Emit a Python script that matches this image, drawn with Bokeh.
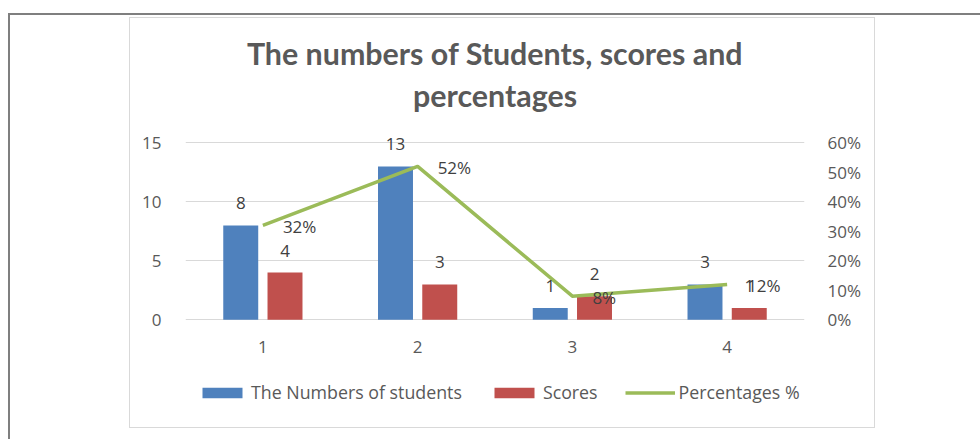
from bokeh.plotting import figure
from bokeh.models import (ColumnDataSource, Range1d, FactorRange, LinearAxis, FixedTicker,
                          NumeralTickFormatter, Legend, LegendItem, Title, LabelSet)
from bokeh.transform import dodge
from bokeh.core.properties import value
from bokeh.embed import file_html
from bokeh.resources import INLINE

# ---- data ----
categories = ["1", "2", "3", "4"]
students = [8, 13, 1, 3]
scores = [4, 3, 2, 1]
percentages = [0.32, 0.52, 0.08, 0.12]
series_names = ["The Numbers of students", "Scores", "Percentages %"]
title_lines = ["The numbers of Students, scores and", "percentages"]
left_ticks = [0, 5, 10, 15]
right_ticks = [0.0, 0.1, 0.2, 0.3, 0.4, 0.5, 0.6]
LEFT_MAX = 15
RIGHT_MAX = 0.6

src = ColumnDataSource(dict(
    cat=categories,
    students=students,
    scores=scores,
    pct=percentages,
    students_lbl=[str(v) for v in students],
    scores_lbl=[str(v) for v in scores],
    pct_lbl=[f"{round(v * 100)}%" for v in percentages],
))

# ---- layout geometry (pixels inside the 744x409 chart canvas) ----
FRAME_TOP = 105          # top of the drawing frame
FRAME_H = 280            # frame reaches down far enough to hold the legend
Y_TOP_PX = 124.3         # where the axis maximum sits
Y_ZERO_PX = 301.3        # where zero sits
ppu = (Y_ZERO_PX - Y_TOP_PX) / LEFT_MAX
y_end = LEFT_MAX + (Y_TOP_PX - FRAME_TOP) / ppu
y_start = -((FRAME_TOP + FRAME_H) - Y_ZERO_PX) / ppu
k = RIGHT_MAX / LEFT_MAX

FONT = "Open Sans"
TFONT = "Lato"
AXIS_COLOR = "#595959"
LABEL_COLOR = "#404040"
GRID = "#d9d9d9"
BLUE, RED, GREEN = "#4f81bd", "#c0504d", "#9bbb59"

p = figure(
    x_range=FactorRange(factors=categories), y_range=Range1d(y_start, y_end),
    frame_width=619, frame_height=FRAME_H, output_backend="svg", toolbar_location=None,
    title=None,
    min_border_left=55, min_border_right=70, min_border_top=FRAME_TOP, min_border_bottom=24,
    styles={
        "position": "relative", "left": "130px", "top": "18px",
        "box-shadow": "0 0 0 1px #d9d9d9, 80px 197px 0 200px #ffffff, 78px 195px 0 200px #7f7f7f",
    },
)
p.outline_line_color = None
p.extra_y_ranges = {"pct": Range1d(y_start * k, y_end * k)}

# axes
p.xaxis.fixed_location = -21 / ppu
p.xaxis.axis_line_color = None
p.xaxis.major_tick_line_color = None
p.xaxis.minor_tick_line_color = None
p.xaxis.major_tick_out = 0
p.xaxis.major_label_standoff = 0
p.xaxis.major_label_text_font = FONT
p.xaxis.major_label_text_font_size = "17px"
p.xaxis.major_label_text_color = AXIS_COLOR

p.yaxis.ticker = FixedTicker(ticks=left_ticks)
p.yaxis.axis_line_color = None
p.yaxis.major_tick_line_color = None
p.yaxis.minor_tick_line_color = None
p.yaxis.major_label_standoff = 18
p.yaxis.major_label_text_font = FONT
p.yaxis.major_label_text_font_size = "17px"
p.yaxis.major_label_text_color = AXIS_COLOR

ax_r = LinearAxis(y_range_name="pct", ticker=FixedTicker(ticks=right_ticks),
                  formatter=NumeralTickFormatter(format="0%"))
ax_r.axis_line_color = None
ax_r.major_tick_line_color = None
ax_r.minor_tick_line_color = None
ax_r.major_label_standoff = 17
ax_r.major_label_text_font = FONT
ax_r.major_label_text_font_size = "17px"
ax_r.major_label_text_color = AXIS_COLOR
p.add_layout(ax_r, "right")

p.xgrid.visible = False
p.ygrid.grid_line_color = GRID
p.ygrid.grid_line_width = 1

# glyphs
BW = 0.226
OFF = 0.143
r1 = p.vbar(x=dodge("cat", -OFF, range=p.x_range), top="students", width=BW, source=src,
            fill_color=BLUE, line_color=None)
r2 = p.vbar(x=dodge("cat", OFF, range=p.x_range), top="scores", width=BW, source=src,
            fill_color=RED, line_color=None)
r3 = p.line(x="cat", y="pct", y_range_name="pct", source=src, line_color=GREEN,
            line_width=3.5, line_join="round")

# data labels
common = dict(source=src, text_font=value(FONT), text_font_size=value("17px"),
              text_color=LABEL_COLOR)
p.add_layout(LabelSet(x=dodge("cat", -OFF, range=p.x_range), y="students", text="students_lbl",
                      text_align="center", text_baseline="middle", y_offset=22, **common))
p.add_layout(LabelSet(x=dodge("cat", OFF, range=p.x_range), y="scores", text="scores_lbl",
                      text_align="center", text_baseline="middle", y_offset=22, **common))
p.add_layout(LabelSet(x="cat", y="pct", y_range_name="pct", text="pct_lbl",
                      text_align="left", text_baseline="middle", x_offset=20, y_offset=-1.5,
                      **common))

# legend at the bottom of the frame
legend = Legend(
    items=[LegendItem(label=series_names[0], renderers=[r1]),
           LegendItem(label=series_names[1], renderers=[r2]),
           LegendItem(label=series_names[2], renderers=[r3])],
    orientation="horizontal", location=(12, -1),
    border_line_color=None, background_fill_alpha=0,
    label_text_font=FONT, label_text_font_size="17.8px", label_text_color=AXIS_COLOR,
    glyph_width=50, glyph_height=13, label_standoff=4, spacing=27,
    padding=0, margin=0,
)
p.add_layout(legend, "center")

# titles (first added sits closest to the plot)
for txt, so in ((title_lines[1], 22), (title_lines[0], -15)):
    p.add_layout(Title(text=txt, align="center", offset=7, standoff=so,
                       text_font=TFONT, text_font_size="30.4px", text_font_style="bold",
                       text_color=AXIS_COLOR), "above")

open("out.html", "w").write(file_html(p, INLINE))
